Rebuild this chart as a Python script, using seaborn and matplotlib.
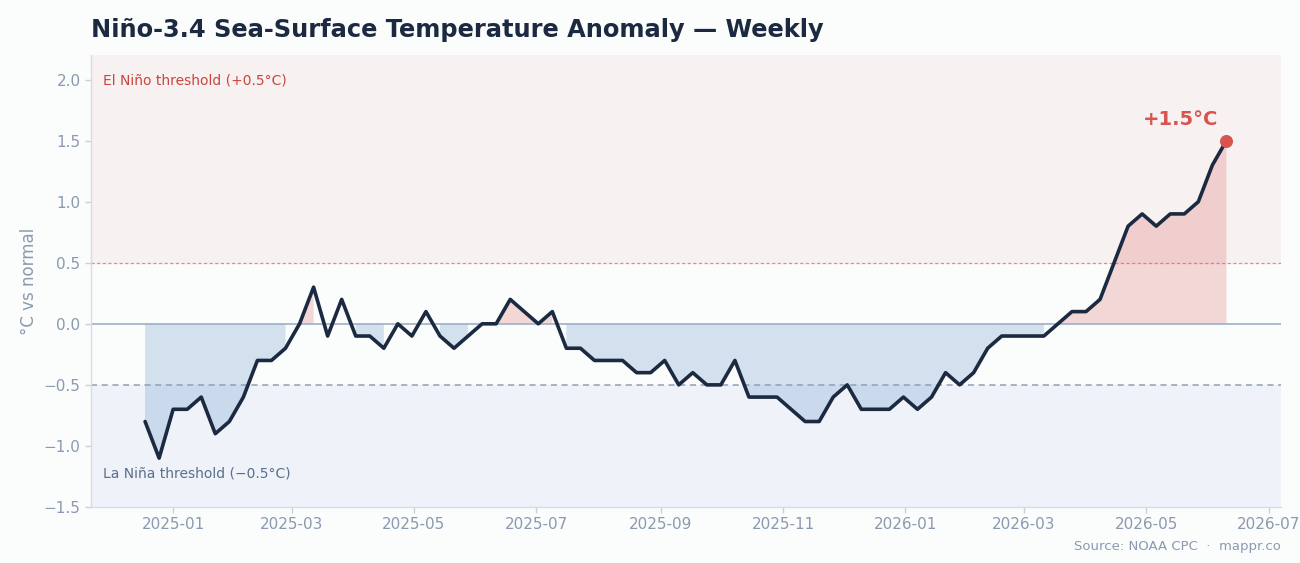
import pandas as pd
import numpy as np
import matplotlib
matplotlib.use('Agg')
from matplotlib import pyplot as plt
import matplotlib.dates as mdates
import seaborn as sns

sns.set_theme(style = 'white')
plt.rcParams['font.family'] = ['DejaVu Sans']

#weekly nino-3.4 anomaly
start_date = '2024-12-18'
anomaly = [-0.8, -1.1, -0.7, -0.7, -0.6, -0.9, -0.8, -0.6, -0.3, -0.3,
           -0.2, 0.0, 0.3, -0.1, 0.2, -0.1, -0.1, -0.2, 0.0, -0.1,
           0.1, -0.1, -0.2, -0.1, 0.0, 0.0, 0.2, 0.1, 0.0, 0.1,
           -0.2, -0.2, -0.3, -0.3, -0.3, -0.4, -0.4, -0.3, -0.5, -0.4,
           -0.5, -0.5, -0.3, -0.6, -0.6, -0.6, -0.7, -0.8, -0.8, -0.6,
           -0.5, -0.7, -0.7, -0.7, -0.6, -0.7, -0.6, -0.4, -0.5, -0.4,
           -0.2, -0.1, -0.1, -0.1, -0.1, 0.0, 0.1, 0.1, 0.2, 0.5,
           0.8, 0.9, 0.8, 0.9, 0.9, 1.0, 1.3, 1.5]
el_nino = 0.5
la_nina = -0.5

df = pd.DataFrame({'date': pd.date_range(start_date, periods = len(anomaly), freq = '7D'),
                   'anom': anomaly})

navy = '#1b2a41'
red = '#d9534f'
blue = '#4f86c0'
grey = '#8a9ab0'

fig = plt.figure(figsize = (13, 5.63), dpi = 100, facecolor = '#fbfcfc')
ax = fig.add_axes([0.07, 0.0995, 0.915, 0.8025])
ax.set_facecolor('#fbfcfc')

ymin, ymax = -1.5, 2.2
ax.axhspan(el_nino, ymax, color = '#f7f1f1', zorder = 0)
ax.axhspan(ymin, la_nina, color = '#eff2f9', zorder = 0)

x = df['date'].values
y = df['anom'].values
ax.fill_between(x, 0, y, where = y >= 0, color = red, alpha = 0.22, lw = 0, zorder = 1)
ax.fill_between(x, 0, y, where = y < 0, color = blue, alpha = 0.23, lw = 0, zorder = 1)

ax.axhline(0, color = '#97a9c2', lw = 1.1, zorder = 2)
ax.axhline(el_nino, color = red, lw = 0.9, ls = (0, (2.5, 2)), alpha = 0.65, zorder = 2)
ax.axhline(la_nina, color = '#8fa0b8', lw = 1.1, ls = (0, (4, 3)), zorder = 2)

sns.lineplot(data = df, x = 'date', y = 'anom', color = navy, lw = 2.6, ax = ax, zorder = 3)

last = df.iloc[-1]
ax.scatter([last['date']], [last['anom']], s = 70, color = red, zorder = 4)
ax.annotate(f"+{last['anom']:.1f}°C", (last['date'], last['anom']), xytext = (-33, 15),
            textcoords = 'offset points', ha = 'center', va = 'center',
            fontsize = 14, fontweight = 'bold', color = red)

ax.text(0.01, 0.945, 'El Niño threshold (+0.5°C)', transform = ax.transAxes,
        fontsize = 10, color = '#c9463d', va = 'center')
ax.text(0.01, 0.075, 'La Niña threshold (\u22120.5°C)', transform = ax.transAxes,
        fontsize = 10, color = '#5a6f8a', va = 'center')

ax.set_ylim(ymin, ymax)
ax.set_yticks([-1.5, -1.0, -0.5, 0.0, 0.5, 1.0, 1.5, 2.0])
ax.xaxis.set_major_locator(mdates.MonthLocator(bymonth = [1, 3, 5, 7, 9, 11]))
ax.xaxis.set_major_formatter(mdates.DateFormatter('%Y-%m'))
ax.tick_params(axis = 'both', colors = grey, labelsize = 11, length = 4, width = 1,
               left = True, bottom = True)
ax.tick_params(axis = 'both', color = '#c8d0dc')
ax.set_xlabel('')
ax.set_ylabel('°C vs normal', color = grey, fontsize = 12)

sns.despine(ax = ax)
for side in ['left', 'bottom']:
    ax.spines[side].set_color('#d5dce6')
    ax.spines[side].set_linewidth(1)

fig.text(0.07, 0.947, 'Niño-3.4 Sea-Surface Temperature Anomaly — Weekly',
         fontsize = 17.4, fontweight = 'bold', color = navy, va = 'center')
fig.text(0.985, 0.018, 'Source: NOAA CPC  ·  mappr.co', fontsize = 9.5,
         color = grey, ha = 'right', va = 'bottom')

plt.savefig('out.png', dpi = 100, facecolor = fig.get_facecolor())
